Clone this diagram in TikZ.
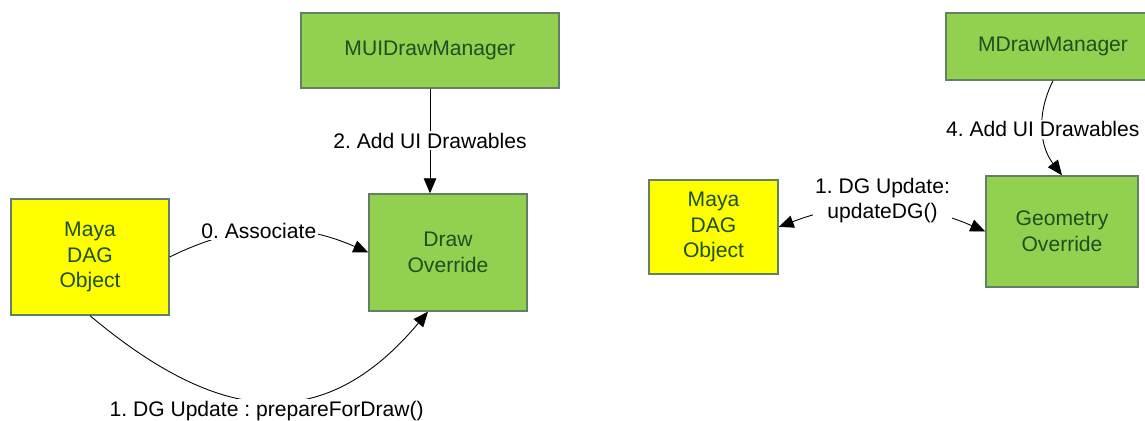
\documentclass[tikz,border=0pt]{standalone}
\usepackage{fontspec}
\setmainfont{Liberation Sans}
\usepackage{tikz}
\usetikzlibrary{positioning}
\usetikzlibrary{arrows.meta}
\definecolor{boxgreen}{RGB}{146,208,80}
\definecolor{boxyellow}{RGB}{255,255,0}
\definecolor{boxline}{RGB}{100,128,100}
\definecolor{boxtext}{RGB}{30,80,30}
\frenchspacing

\begin{document}
\begin{tikzpicture}[
    x = 0.02cm, y = -0.02cm,
    font = \fontsize{12}{14.7}\selectfont,
    >={Triangle[length=0.3cm, width=0.25cm]},
    every edge/.style = {draw, line width = 0.5pt},
    override/.style = {shape = rectangle, draw = boxline, fill = boxgreen, line width = 0.8pt, text = boxtext, align = center, inner sep = 0pt},
    mayaobj/.style = {shape = rectangle, draw = boxline, fill = boxyellow, line width = 0.8pt, text = boxtext, align = center, inner sep = 0pt},
    step label/.style = {fill = white, inner sep = 1pt, align = center},
    ]
    \useasboundingbox (0,0) rectangle (1145,421);

    % left: draw override
    \node[mayaobj, minimum width = 3.16cm, minimum height = 2.32cm] (Maya) at (90, 257) {Maya\\DAG\\Object};
    \node[override, minimum width = 3.16cm, minimum height = 2.34cm] (DrawOvr) at (448, 252.5) {Draw\\Override};
    \node[override, minimum width = 5.16cm, minimum height = 1.5cm] (UIMgr) at (430, 50.5) {MUIDrawManager};

    \path[->] (UIMgr.south) edge node[step label] {2. Add UI Drawables} (DrawOvr.north -| UIMgr.south);
    \path[->] (Maya.east) edge[bend left = 25] node[step label, pos = 0.45] {0. Associate} (DrawOvr.west);
    \path[->] (Maya.south) edge[out = -40, in = -130, looseness = 1.25] node[step label, yshift = -0.2cm] {1. DG Update : prepareForDraw()} ([xshift = -0.4cm]DrawOvr.south);

    % right: geometry override
    \node[mayaobj, minimum width = 2.58cm, minimum height = 1.88cm] (Maya2) at (713.5, 227) {Maya\\DAG\\Object};
    \node[override, minimum width = 3.04cm, minimum height = 2.22cm] (GeoOvr) at (1062, 231.5) {Geometry\\Override};
    \node[override, minimum width = 4.28cm, minimum height = 1.34cm] (DrawMgr) at (1053, 46.5) {MDrawManager};

    \path[<->] (Maya2.east) edge[bend left = 22] node[step label, yshift = 0.12cm] {1. DG Update:\\updateDG()} (GeoOvr.west);
    \path[->] (DrawMgr.south) edge[bend right = 32] node[step label] {4. Add UI Drawables} (GeoOvr.north);
\end{tikzpicture}
\end{document}
